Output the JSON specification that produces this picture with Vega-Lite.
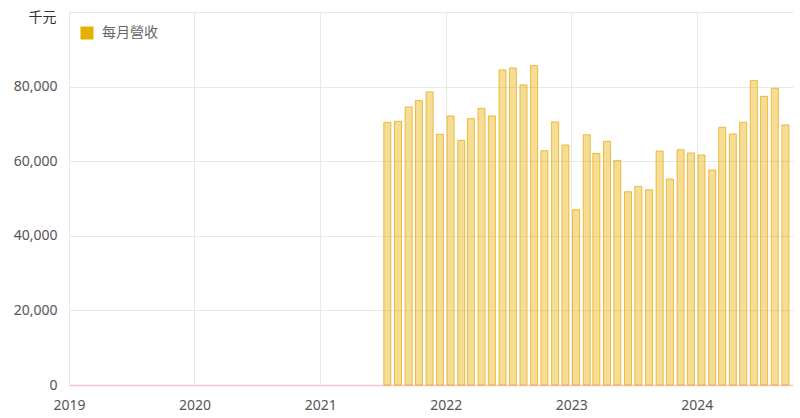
{
  "$schema": "https://vega.github.io/schema/vega-lite/v6.json",
  "width": 724,
  "height": 373,
  "autosize": {"type": "none"},
  "padding": {"left": 69, "top": 12, "right": 7, "bottom": 33},
  "background": "white",
  "config": {
    "font": "Noto Sans, Noto Sans CJK TC",
    "view": {"stroke": null}
  },
  "data": {
    "values": [
      {"date": "2021-07-15", "revenue": 70430, "series": "每月營收"},
      {"date": "2021-08-15", "revenue": 70700, "series": "每月營收"},
      {"date": "2021-09-15", "revenue": 74550, "series": "每月營收"},
      {"date": "2021-10-15", "revenue": 76240, "series": "每月營收"},
      {"date": "2021-11-15", "revenue": 78580, "series": "每月營收"},
      {"date": "2021-12-15", "revenue": 67200, "series": "每月營收"},
      {"date": "2022-01-15", "revenue": 72130, "series": "每月營收"},
      {"date": "2022-02-15", "revenue": 65580, "series": "每月營收"},
      {"date": "2022-03-15", "revenue": 71410, "series": "每月營收"},
      {"date": "2022-04-15", "revenue": 74180, "series": "每月營收"},
      {"date": "2022-05-15", "revenue": 72130, "series": "每月營收"},
      {"date": "2022-06-15", "revenue": 84480, "series": "每月營收"},
      {"date": "2022-07-15", "revenue": 85020, "series": "每月營收"},
      {"date": "2022-08-15", "revenue": 80460, "series": "每月營收"},
      {"date": "2022-09-15", "revenue": 85640, "series": "每月營收"},
      {"date": "2022-10-15", "revenue": 62820, "series": "每月營收"},
      {"date": "2022-11-15", "revenue": 70520, "series": "每月營收"},
      {"date": "2022-12-15", "revenue": 64340, "series": "每月營收"},
      {"date": "2023-01-15", "revenue": 47000, "series": "每月營收"},
      {"date": "2023-02-15", "revenue": 67100, "series": "每月營收"},
      {"date": "2023-03-15", "revenue": 62100, "series": "每月營收"},
      {"date": "2023-04-15", "revenue": 65320, "series": "每月營收"},
      {"date": "2023-05-15", "revenue": 60220, "series": "每月營收"},
      {"date": "2023-06-15", "revenue": 51810, "series": "每月營收"},
      {"date": "2023-07-15", "revenue": 53240, "series": "每月營收"},
      {"date": "2023-08-15", "revenue": 52350, "series": "每月營收"},
      {"date": "2023-09-15", "revenue": 62740, "series": "每月營收"},
      {"date": "2023-10-15", "revenue": 55220, "series": "每月營收"},
      {"date": "2023-11-15", "revenue": 63090, "series": "每月營收"},
      {"date": "2023-12-15", "revenue": 62200, "series": "每月營收"},
      {"date": "2024-01-15", "revenue": 61660, "series": "每月營收"},
      {"date": "2024-02-15", "revenue": 57640, "series": "每月營收"},
      {"date": "2024-03-15", "revenue": 69080, "series": "每月營收"},
      {"date": "2024-04-15", "revenue": 67300, "series": "每月營收"},
      {"date": "2024-05-15", "revenue": 70430, "series": "每月營收"},
      {"date": "2024-06-15", "revenue": 81610, "series": "每月營收"},
      {"date": "2024-07-15", "revenue": 77400, "series": "每月營收"},
      {"date": "2024-08-15", "revenue": 79550, "series": "每月營收"},
      {"date": "2024-09-15", "revenue": 69720, "series": "每月營收"}
    ]
  },
  "mark": {
    "type": "bar",
    "width": 7,
    "fillOpacity": 0.42,
    "stroke": "#e8ac20",
    "strokeOpacity": 0.8,
    "strokeWidth": 1
  },
  "encoding": {
    "x": {
      "field": "date",
      "type": "temporal",
      "scale": {"domain": ["2019-01-01", "2024-10-07"], "padding": 0},
      "axis": {
        "title": null,
        "format": "%Y",
        "tickCount": {"interval": "year", "step": 1},
        "grid": true,
        "gridColor": "#e8e8e8",
        "domainColor": "#f2c4cc",
        "domainWidth": 1.5,
        "ticks": false,
        "labelFontSize": 14,
        "labelColor": "#555555",
        "labelPadding": 13,
        "labelFlush": false
      }
    },
    "y": {
      "field": "revenue",
      "type": "quantitative",
      "scale": {"domain": [0, 100000], "nice": false},
      "axis": {
        "title": "千元",
        "titleAngle": 0,
        "titleAlign": "center",
        "titleBaseline": "alphabetic",
        "titleX": -27,
        "titleY": 9,
        "titleFontSize": 14,
        "titleFontWeight": "normal",
        "titleColor": "#333333",
        "values": [0, 20000, 40000, 60000, 80000, 100000],
        "labelExpr": "datum.value >= 100000 ? '' : format(datum.value, ',')",
        "grid": true,
        "gridColor": "#e8e8e8",
        "domain": false,
        "ticks": false,
        "labelFontSize": 14,
        "labelColor": "#555555",
        "labelPadding": 12
      }
    },
    "color": {
      "field": "series",
      "type": "nominal",
      "scale": {"range": ["#e6b000"]},
      "legend": {
        "title": null,
        "orient": "none",
        "legendX": 11,
        "legendY": 14,
        "symbolType": "square",
        "symbolSize": 169,
        "symbolOpacity": 1,
        "symbolStrokeWidth": 0,
        "symbolFillColor": "#e6b000",
        "labelFontSize": 14,
        "labelColor": "#666666",
        "labelOffset": 8
      }
    }
  }
}
